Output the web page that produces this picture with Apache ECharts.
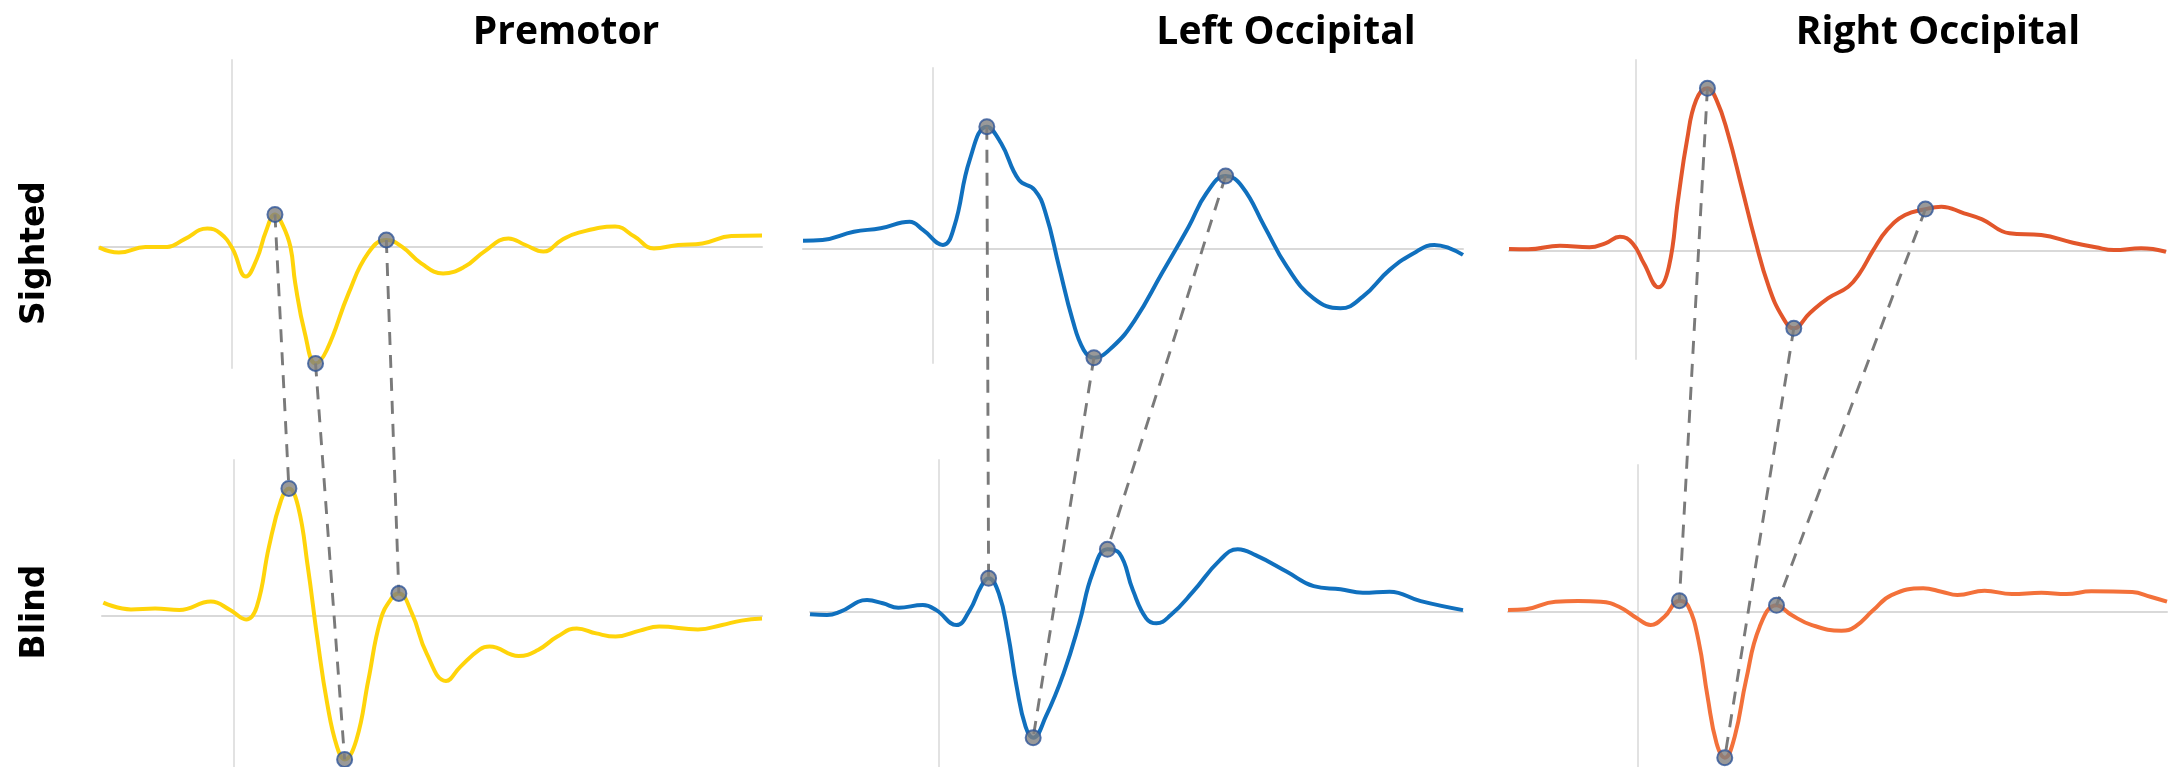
<!DOCTYPE html>
<html>
<head>
<meta charset="utf-8">
<title>Evoked responses: Sighted vs Blind</title>
<script src="https://cdn.jsdelivr.net/npm/echarts@6/dist/echarts.min.js"></script>
<style>
  html, body { margin: 0; padding: 0; background: #ffffff; }
  #chart { width: 2172px; height: 767px; }
</style>
</head>
<body>
<div id="chart"></div>
<script>
// Regions (columns) and groups (rows)
const regions = ['Premotor', 'Left Occipital', 'Right Occipital'];
const groups = ['Sighted', 'Blind'];

// Averaged waveforms: [time (ms), amplitude (µV)]
const premotorSighted = [
  [-100, -0.02], [-85, -0.28], [-65, 0], [-48.6, 0], [-35.8, 0.38], [-18.3, 0.93], [-8.5, 0.68],
  [0.6, -0.07], [10.8, -1.48], [19, -0.6], [26, 0.8], [32.7, 1.63], [38.5, 1.1], [44.4, 0.0],
  [48, -1.82], [55.3, -4.32], [63.3, -5.82], [71.8, -5.15], [88.2, -2.32], [102.8, -0.32],
  [116.7, 0.35], [128.4, 0.02], [143, -0.82], [159.5, -1.32], [175.9, -0.98], [190.5, -0.23],
  [208.8, 0.43], [221.6, 0.1], [235.1, -0.23], [249, 0.35], [261.8, 0.72], [289.2, 1.02],
  [303.8, 0.52], [318.5, -0.07], [336.7, 0.1], [355, 0.18], [376.9, 0.55], [400, 0.58]
];
const premotorBlind = [
  [-99, 0.67], [-78.1, 0.33], [-59.8, 0.37], [-41.4, 0.3], [-17.5, 0.72], [-2.9, 0.3], [9.2, -0.17],
  [17.3, 0.47], [26.5, 3.47], [35.7, 5.8], [41.6, 6.38], [48.6, 5.47], [55.9, 2.47], [63.3, -1.2],
  [70.6, -4.37], [78, -6.53], [83.8, -7.17], [92.7, -6.2], [101.8, -3.2], [111, -0.2], [119.5, 0.9],
  [124.9, 1.13], [134.8, 0.13], [145.9, -1.87], [160.6, -3.25], [171.6, -2.53], [186.3, -1.67],
  [193.6, -1.53], [215.7, -2.0], [230.3, -1.7], [245, -1.03], [259.7, -0.62], [274.4, -0.87],
  [289.1, -1.03], [307.4, -0.73], [322.1, -0.53], [351.5, -0.67], [369.8, -0.45], [384.5, -0.23],
  [400, -0.13]
];
const leftOccSighted = [
  [-98, 0.38], [-83.3, 0.42], [-59.7, 0.83], [-39.5, 1.0], [-17.6, 1.33], [-7.5, 0.92], [7.6, 0.17],
  [16.1, 1.08], [27.8, 4.42], [40.7, 6.08], [51.5, 5.25], [64.9, 3.42], [76.8, 2.92], [85.1, 1.75],
  [95.2, -0.92], [105.4, -3.58], [113.8, -5.08], [121.5, -5.47], [135.7, -4.92], [152.5, -3.58],
  [172.8, -1.25], [193, 1.08], [206.4, 2.75], [220.9, 3.62], [233.4, 3.08], [250.3, 1.08],
  [267.1, -0.92], [287.3, -2.5], [307.5, -3.0], [324.4, -2.42], [344.6, -1.08], [364.8, -0.17],
  [378.3, 0.17], [390, 0], [400, -0.33]
];
const leftOccBlind = [
  [-98, -0.13], [-85, -0.17], [-74.8, 0], [-54.5, 0.58], [-42.5, 0.42], [-30.6, 0.2], [-11.9, 0.33],
  [-1.7, 0.08], [13.7, -0.67], [23.9, 0.08], [32.4, 1.25], [38.2, 1.67], [46, 0.92], [52.9, -1.08],
  [59.6, -3.75], [66.4, -5.75], [72.2, -6.3], [81.8, -5.25], [95.4, -3.08], [107.3, -0.58],
  [117.5, 1.92], [128.8, 3.12], [138, 2.92], [148.2, 1.08], [158.4, -0.33], [166.2, -0.58],
  [177.1, -0.17], [194.1, 1.0], [214.6, 2.58], [228.2, 3.12], [241.8, 2.83], [265.7, 2.0],
  [286.1, 1.28], [306.6, 1.12], [323.6, 0.95], [344, 1.0], [367.8, 0.53], [400, 0.08]
];
const rightOccSighted = [
  [-96, 0.08], [-81.6, 0.07], [-57.6, 0.25], [-35.3, 0.17], [-23.3, 0.37], [-12.3, 0.7], [-2.7, 0.37],
  [5.8, -0.63], [16.8, -1.83], [24.7, -0.8], [31.6, 2.53], [38.4, 5.53], [45.3, 7.53], [53.8, 8.12],
  [60.7, 7.53], [69.2, 5.87], [79.6, 3.2], [89.8, 0.53], [100.1, -1.8], [110.4, -3.3], [119, -3.88],
  [131, -3.13], [144.7, -2.38], [160.1, -1.8], [168.7, -1.13], [179, 0.03], [189.3, 1.03],
  [203, 1.78], [218.4, 2.08], [230.4, 2.2], [247.6, 1.87], [261.2, 1.57], [281.8, 0.87],
  [305.8, 0.78], [329.8, 0.4], [347, 0.17], [360.7, 0.03], [381.2, 0.12], [400, -0.05]
];
const rightOccBlind = [
  [-98, 0.08], [-84.6, 0.12], [-62.2, 0.5], [-45, 0.53], [-27.9, 0.5], [-14.1, 0.25], [-0.5, -0.33],
  [9.8, -0.67], [20.2, -0.25], [31.5, 0.55], [38, 0.3], [45.9, -1.42], [52.8, -4.25], [59.6, -6.58],
  [65.8, -7.3], [73.3, -6.25], [81.9, -3.42], [92.2, -0.75], [104.9, 0.32], [116.3, -0.17],
  [131.7, -0.67], [154, -0.95], [164.3, -0.75], [178.1, 0.08], [191.8, 0.83], [215.8, 1.17],
  [229.6, 1.0], [241.6, 0.83], [262.1, 1.05], [282.8, 0.88], [305.1, 0.95], [324, 0.88],
  [342.8, 1.02], [373.7, 0.98], [387.4, 0.75], [400, 0.5]
];

// Latencies (ms) of the matched components in each trace
const premotorSightedPeaks = [32.7, 63.3, 116.7];
const premotorBlindPeaks = [41.6, 83.8, 124.9];
const leftOccSightedPeaks = [40.7, 121.5, 220.9];
const leftOccBlindPeaks = [38.2, 72.2, 128.8];
const rightOccSightedPeaks = [53.8, 119, 218.4];
const rightOccBlindPeaks = [31.5, 65.8, 104.9];

// Panel order: row 0 = Sighted (grids 0..2), row 1 = Blind (grids 3..5)
const traces = [premotorSighted, leftOccSighted, rightOccSighted, premotorBlind, leftOccBlind, rightOccBlind];
const peaks = [premotorSightedPeaks, leftOccSightedPeaks, rightOccSightedPeaks,
               premotorBlindPeaks, leftOccBlindPeaks, rightOccBlindPeaks];
const colors = ['#FFD40A', '#1070BE', '#E2562B', '#FFD40A', '#1070BE', '#F3713A'];

const gridBoxes = [
  { left: 99,   top: 60,  width: 663, height: 308 },
  { left: 803,  top: 68,  width: 660, height: 295 },
  { left: 1509, top: 60,  width: 657, height: 299 },
  { left: 102,  top: 460, width: 660, height: 307 },
  { left: 810,  top: 460, width: 653, height: 307 },
  { left: 1508, top: 465, width: 659, height: 302 }
];
const xRanges = [[-100, 400], [-98, 400], [-96, 400], [-100, 400], [-98, 400], [-98, 400]];
const yRanges = [[-6.05, 9.35], [-5.735, 9.015], [-5.415, 9.535], [-7.55, 7.8], [-7.765, 7.585], [-7.765, 7.335]];

function valueAt(trace, t) {
  const p = trace.find(d => d[0] === t);
  return p ? p[1] : null;
}

const grid = gridBoxes.map(b => Object.assign({ containLabel: false }, b));
const xAxis = xRanges.map((r, i) => ({
  type: 'value', gridIndex: i, min: r[0], max: r[1],
  axisLine: { show: true, onZero: true, lineStyle: { color: '#D9D9D9', width: 2 } },
  axisTick: { show: false }, axisLabel: { show: false }, splitLine: { show: false }
}));
const yAxis = yRanges.map((r, i) => ({
  type: 'value', gridIndex: i, min: r[0], max: r[1],
  axisLine: { show: true, onZero: true, lineStyle: { color: '#E2E2E2', width: 2 } },
  axisTick: { show: false }, axisLabel: { show: false }, splitLine: { show: false }
}));

const series = [];
traces.forEach((tr, i) => {
  series.push({
    type: 'line', xAxisIndex: i, yAxisIndex: i, data: tr,
    smooth: 0.45, showSymbol: false, z: 2,
    lineStyle: { color: colors[i], width: 4 }
  });
});
peaks.forEach((pk, i) => {
  series.push({
    type: 'scatter', xAxisIndex: i, yAxisIndex: i, z: 10,
    data: pk.map(t => [t, valueAt(traces[i], t)]),
    symbol: 'circle', symbolSize: 15,
    itemStyle: { color: '#7F7F7F', borderColor: '#2F5597', borderWidth: 2 }
  });
});

const chart = echarts.init(document.getElementById('chart'), null, { renderer: 'canvas' });
chart.setOption({
  animation: false,
  backgroundColor: '#ffffff',
  grid, xAxis, yAxis, series
});

// Column titles, row labels and dashed links between matched components
const titleCenters = [566, 1286, 1938];
const rowCenters = [253, 612];
const elements = [];
regions.forEach((name, c) => {
  elements.push({
    type: 'text', x: titleCenters[c], y: 33, z: 20, silent: true,
    style: { text: name, fontFamily: '"Open Sans"', fontWeight: 'bold', fontSize: 39,
             fill: '#000000', align: 'center', verticalAlign: 'middle' }
  });
});
groups.forEach((name, r) => {
  elements.push({
    type: 'text', x: 35, y: rowCenters[r], rotation: Math.PI / 2, z: 20, silent: true,
    style: { text: name, fontFamily: '"DejaVu Sans"', fontWeight: 'bold', fontSize: 33,
             fill: '#000000', align: 'center', verticalAlign: 'middle' }
  });
});
for (let c = 0; c < 3; c++) {
  peaks[c].forEach((t, k) => {
    const tb = peaks[c + 3][k];
    const a = chart.convertToPixel({ gridIndex: c }, [t, valueAt(traces[c], t)]);
    const b = chart.convertToPixel({ gridIndex: c + 3 }, [tb, valueAt(traces[c + 3], tb)]);
    elements.push({
      type: 'line', z: 5, silent: true,
      shape: { x1: a[0], y1: a[1], x2: b[0], y2: b[1] },
      style: { stroke: '#7A7A7A', lineWidth: 2.9, lineDash: [13, 10] }
    });
  });
}
chart.setOption({ graphic: { elements } });
</script>
</body>
</html>
